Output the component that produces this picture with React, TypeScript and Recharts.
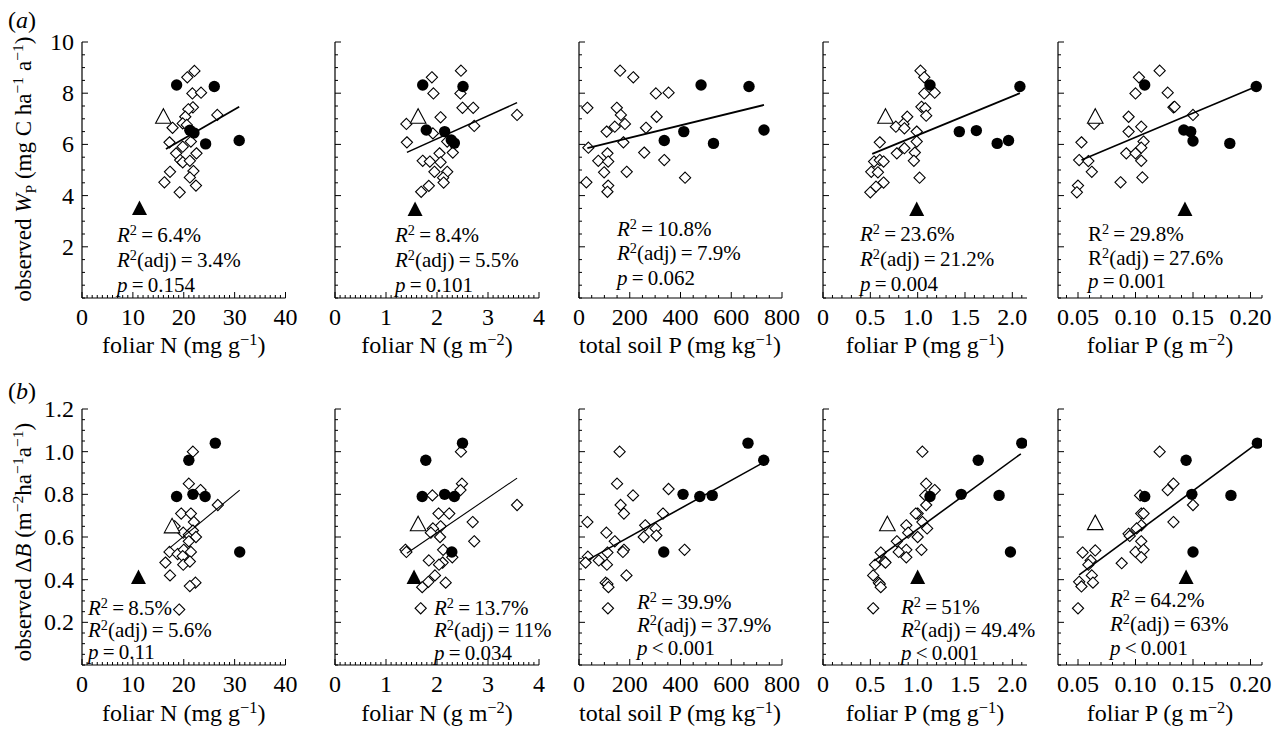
import React from "react";
import { ScatterChart, Scatter, XAxis, YAxis } from "recharts";

const SERIF = '"Liberation Serif", "Times New Roman", Times, serif';

type P = [number, number];

// ---- row (a): observed Wp ----
const wpNmDiamonds: P[] = [[22.1, 8.87], [20.7, 8.62], [21.7, 7.99], [23.4, 8.02], [21.8, 7.45], [20.9, 7.37], [26.6, 7.15], [20.3, 7.08], [19.8, 6.82], [17.8, 6.65], [20.6, 6.76], [17.2, 6.08], [21.4, 6.11], [19.8, 5.91], [18.5, 5.65], [22.5, 5.65], [19.3, 5.39], [19.8, 5.3], [21.2, 5.36], [17.3, 4.93], [21.9, 4.96], [21.2, 4.71], [16.2, 4.52], [22.4, 4.39], [19.2, 4.13]];
const wpNmCircles: P[] = [[18.6, 8.32], [26.0, 8.26], [21.2, 6.55], [22.0, 6.45], [24.3, 6.02], [30.9, 6.15]];
const wpNmTriOpen: P[] = [[16.0, 7.08]];
const wpNmTriFilled: P[] = [[11.3, 3.5]];
const wpNmFit: P[] = [[16.5, 5.82], [30.9, 7.47]];

const wpNaDiamonds: P[] = [[2.47, 8.88], [1.9, 8.62], [1.93, 7.99], [2.46, 7.99], [2.5, 7.43], [2.71, 7.43], [3.57, 7.15], [2.07, 7.06], [1.4, 6.8], [2.73, 6.72], [1.92, 6.43], [1.41, 6.08], [2.2, 6.11], [2.31, 5.68], [2.05, 5.65], [1.72, 5.36], [1.86, 5.33], [2.07, 5.3], [1.95, 4.93], [2.2, 4.93], [2.12, 4.7], [2.13, 4.51], [1.84, 4.38], [1.69, 4.15]];
const wpNaCircles: P[] = [[1.72, 8.32], [2.51, 8.26], [1.79, 6.56], [2.15, 6.5], [2.28, 6.17], [2.34, 6.05]];
const wpNaTriOpen: P[] = [[1.63, 7.08]];
const wpNaTriFilled: P[] = [[1.57, 3.46]];
const wpNaFit: P[] = [[1.41, 5.69], [3.57, 7.63]];

const wpSoilDiamonds: P[] = [[162, 8.88], [214, 8.62], [303, 7.99], [353, 8.02], [33, 7.43], [149, 7.43], [165, 7.15], [306, 7.08], [181, 6.8], [141, 6.69], [264, 6.65], [109, 6.5], [175, 6.08], [37, 5.87], [257, 5.68], [112, 5.65], [76, 5.36], [115, 5.33], [336, 5.39], [99, 4.91], [188, 4.93], [29, 4.52], [418, 4.7], [115, 4.39], [112, 4.15]];
const wpSoilCircles: P[] = [[481, 8.32], [670, 8.26], [336, 6.15], [413, 6.5], [530, 6.04], [729, 6.56]];
const wpSoilFit: P[] = [[33, 5.85], [729, 7.54]];

const wpPmDiamonds: P[] = [[1.03, 8.88], [1.07, 8.62], [1.07, 7.99], [1.18, 8.02], [1.04, 7.47], [1.08, 7.41], [1.09, 7.12], [0.89, 7.08], [0.85, 6.8], [0.77, 6.69], [0.86, 6.63], [0.99, 6.5], [0.6, 6.08], [0.99, 6.11], [0.86, 5.85], [0.78, 5.65], [0.97, 5.68], [0.54, 5.33], [0.6, 5.39], [0.64, 5.33], [0.96, 5.36], [0.51, 4.93], [0.58, 4.91], [1.02, 4.7], [0.64, 4.51], [0.56, 4.35], [0.5, 4.13]];
const wpPmCircles: P[] = [[1.13, 8.32], [2.08, 8.26], [1.44, 6.5], [1.62, 6.54], [1.84, 6.04], [1.96, 6.15]];
const wpPmTriOpen: P[] = [[0.66, 7.08]];
const wpPmTriFilled: P[] = [[0.99, 3.46]];
const wpPmFit: P[] = [[0.52, 5.63], [2.08, 8.0]];

const wpPaDiamonds: P[] = [[0.121, 8.88], [0.103, 8.62], [0.1, 7.99], [0.128, 8.02], [0.133, 7.45], [0.134, 7.47], [0.15, 7.15], [0.094, 7.08], [0.064, 6.8], [0.105, 6.69], [0.094, 6.5], [0.053, 6.08], [0.107, 6.11], [0.105, 5.87], [0.092, 5.65], [0.1, 5.65], [0.051, 5.39], [0.059, 5.35], [0.105, 5.36], [0.062, 4.93], [0.087, 4.52], [0.106, 4.71], [0.05, 4.39], [0.049, 4.13]];
const wpPaCircles: P[] = [[0.108, 8.32], [0.205, 8.26], [0.142, 6.56], [0.148, 6.5], [0.15, 6.13], [0.182, 6.04]];
const wpPaTriOpen: P[] = [[0.065, 7.08]];
const wpPaTriFilled: P[] = [[0.143, 3.46]];
const wpPaFit: P[] = [[0.053, 5.39], [0.205, 8.26]];

// ---- row (b): observed delta B ----
const dbNmDiamonds: P[] = [[21.8, 1.0], [21.0, 0.85], [23.3, 0.82], [26.7, 0.75], [19.5, 0.71], [21.4, 0.71], [18.2, 0.65], [22.0, 0.67], [19.9, 0.62], [21.0, 0.61], [21.8, 0.63], [22.4, 0.6], [21.0, 0.58], [17.2, 0.53], [18.8, 0.52], [20.0, 0.54], [21.4, 0.53], [19.8, 0.51], [16.4, 0.48], [19.9, 0.47], [21.2, 0.485], [17.3, 0.42], [22.3, 0.386], [21.2, 0.37], [19.1, 0.26]];
const dbNmCircles: P[] = [[26.2, 1.04], [21.0, 0.96], [18.6, 0.79], [21.8, 0.8], [24.2, 0.79], [31.0, 0.53]];
const dbNmTriOpen: P[] = [[17.7, 0.65]];
const dbNmTriFilled: P[] = [[11.1, 0.41]];
const dbNmFit: P[] = [[17.2, 0.548], [31.0, 0.82]];

const dbNaDiamonds: P[] = [[2.47, 1.0], [2.49, 0.85], [2.46, 0.82], [1.91, 0.795], [3.57, 0.75], [2.03, 0.71], [2.24, 0.71], [2.7, 0.67], [2.07, 0.65], [1.92, 0.64], [1.88, 0.62], [2.06, 0.6], [2.73, 0.58], [1.38, 0.54], [1.4, 0.53], [2.12, 0.54], [2.3, 0.505], [1.84, 0.49], [2.11, 0.48], [2.04, 0.47], [1.96, 0.42], [1.83, 0.39], [2.17, 0.386], [1.71, 0.365], [1.68, 0.266]];
const dbNaCircles: P[] = [[2.5, 1.04], [1.78, 0.96], [1.71, 0.79], [2.15, 0.8], [2.34, 0.79], [2.29, 0.53]];
const dbNaTriOpen: P[] = [[1.63, 0.66]];
const dbNaTriFilled: P[] = [[1.55, 0.41]];
const dbNaFit: P[] = [[1.41, 0.524], [3.57, 0.876]];

const dbSoilDiamonds: P[] = [[160, 1.0], [150, 0.85], [353, 0.825], [213, 0.795], [164, 0.75], [177, 0.71], [331, 0.71], [33, 0.67], [261, 0.655], [302, 0.64], [108, 0.62], [255, 0.6], [305, 0.607], [141, 0.58], [177, 0.54], [173, 0.53], [112, 0.527], [416, 0.54], [35, 0.508], [26, 0.48], [78, 0.49], [110, 0.47], [187, 0.42], [105, 0.386], [112, 0.38], [116, 0.365], [114, 0.266]];
const dbSoilCircles: P[] = [[666, 1.04], [728, 0.96], [410, 0.8], [476, 0.79], [525, 0.795], [334, 0.53]];
const dbSoilFit: P[] = [[35, 0.493], [728, 0.95]];

const dbPmDiamonds: P[] = [[1.05, 1.0], [1.09, 0.85], [1.18, 0.82], [1.08, 0.795], [1.09, 0.75], [1.0, 0.71], [0.98, 0.71], [1.05, 0.67], [0.88, 0.655], [1.1, 0.64], [0.9, 0.62], [1.0, 0.6], [0.78, 0.58], [0.61, 0.527], [0.88, 0.54], [0.8, 0.53], [1.04, 0.54], [0.88, 0.505], [0.65, 0.485], [0.55, 0.47], [0.66, 0.48], [0.53, 0.42], [0.59, 0.386], [0.6, 0.38], [0.61, 0.365], [0.53, 0.266]];
const dbPmCircles: P[] = [[2.1, 1.04], [1.64, 0.96], [1.13, 0.79], [1.46, 0.8], [1.86, 0.795], [1.98, 0.53]];
const dbPmTriOpen: P[] = [[0.68, 0.66]];
const dbPmTriFilled: P[] = [[1.0, 0.41]];
const dbPmFit: P[] = [[0.54, 0.488], [2.09, 0.99]];

const dbPaDiamonds: P[] = [[0.121, 1.0], [0.133, 0.85], [0.128, 0.82], [0.104, 0.795], [0.15, 0.75], [0.105, 0.71], [0.107, 0.71], [0.133, 0.67], [0.105, 0.655], [0.101, 0.64], [0.094, 0.615], [0.095, 0.605], [0.105, 0.58], [0.054, 0.527], [0.065, 0.537], [0.1, 0.53], [0.107, 0.54], [0.105, 0.505], [0.061, 0.49], [0.059, 0.47], [0.088, 0.477], [0.062, 0.42], [0.051, 0.39], [0.053, 0.368], [0.063, 0.386], [0.05, 0.266]];
const dbPaCircles: P[] = [[0.206, 1.04], [0.144, 0.96], [0.108, 0.79], [0.149, 0.8], [0.183, 0.795], [0.15, 0.53]];
const dbPaTriOpen: P[] = [[0.065, 0.665]];
const dbPaTriFilled: P[] = [[0.144, 0.41]];
const dbPaFit: P[] = [[0.051, 0.422], [0.206, 1.04]];

// ---- axes ----
const nmMajor = [0, 10, 20, 30, 40];
const naMajor = [0, 1, 2, 3, 4];
const soilMajor = [0, 200, 400, 600, 800];
const pmMajor = [0, 0.5, 1, 1.5, 2];
const paMajor = [0.05, 0.1, 0.15, 0.2];
const wpMajor = [2, 4, 6, 8, 10];
const dbMajor = [0.2, 0.4, 0.6, 0.8, 1.0, 1.2];

const steps = (a: number, b: number, s: number) => {
  const out: number[] = [];
  for (let i = 0; a + i * s <= b + 1e-9; i++) out.push(+(a + i * s).toFixed(4));
  return out;
};

const pts = (a: P[]) => a.map(([x, y]) => ({ x, y }));
const isMajor = (v: number, m: number[]) => m.some((k) => Math.abs(k - v) < 1e-6);

const PLOT_H = 256;
const ML = 45, MT = 12, MR = 32, MB = 40;
const TICK_FS = 24;

function Diamond(p: any) {
  const { cx, cy } = p;
  const r = 5.6;
  return <polygon points={`${cx},${cy - r} ${cx + r},${cy} ${cx},${cy + r} ${cx - r},${cy}`} fill="#fff" stroke="#000" strokeWidth={1.1} />;
}
function Dot(p: any) {
  return <circle cx={p.cx} cy={p.cy} r={5.7} fill="#000" />;
}
function TriOpen(p: any) {
  const { cx, cy } = p;
  return <polygon points={`${cx},${cy - 8} ${cx + 7.8},${cy + 6.5} ${cx - 7.8},${cy + 6.5}`} fill="#fff" stroke="#000" strokeWidth={1.1} />;
}
function TriFilled(p: any) {
  const { cx, cy } = p;
  return <polygon points={`${cx},${cy - 8} ${cx + 7.5},${cy + 6.5} ${cx - 7.5},${cy + 6.5}`} fill="#000" />;
}
const Empty = () => <g />;

function XTick({ x, y, payload, majors, fmt }: any) {
  const major = isMajor(payload.value, majors);
  return (
    <g>
      <line x1={x} x2={x} y1={y} y2={y - (major ? 6 : 3)} stroke="#000" strokeWidth={1} />
      {major && (
        <text x={x} y={y + 27} textAnchor="middle" fontFamily={SERIF} fontSize={TICK_FS} fill="#000">
          {fmt(payload.value)}
        </text>
      )}
    </g>
  );
}

function YTick({ x, y, payload, majors, fmt, show }: any) {
  const major = isMajor(payload.value, majors);
  return (
    <g>
      <line x1={x} x2={x + (major ? 6 : 3)} y1={y} y2={y} stroke="#000" strokeWidth={1} />
      {show && major && (
        <text x={x - 8} y={y + 8} textAnchor="end" fontFamily={SERIF} fontSize={TICK_FS} fill="#000">
          {fmt(payload.value)}
        </text>
      )}
    </g>
  );
}

function Panel(props: any) {
  const { left, top, w, xDomain, xTicks, xMajor, xFmt, yDomain, yTicks, yMajor, yFmt, showY, diamonds, circles, triOpen, triFilled, fit, lw } = props;
  return (
    <div style={{ position: "absolute", left: left - ML, top: top - MT }}>
      <ScatterChart width={w + ML + MR} height={PLOT_H + MT + MB} margin={{ top: MT, right: MR, bottom: 0, left: 0 }}>
        <XAxis type="number" dataKey="x" domain={xDomain} ticks={xTicks} interval={0} height={MB} allowDataOverflow
          tickSize={0} tickMargin={0} tickLine={false} axisLine={{ stroke: "#000", strokeWidth: 1.2 }}
          tick={(p: any) => <XTick {...p} majors={xMajor} fmt={xFmt} />} />
        <YAxis type="number" dataKey="y" domain={yDomain} ticks={yTicks} interval={0} width={ML} allowDataOverflow
          tickSize={0} tickMargin={0} tickLine={false} axisLine={{ stroke: "#000", strokeWidth: 1.2 }}
          tick={(p: any) => <YTick {...p} majors={yMajor} fmt={yFmt} show={showY} />} />
        <Scatter data={pts(diamonds)} shape={Diamond} isAnimationActive={false} />
        <Scatter data={pts(fit)} shape={Empty} line={{ stroke: "#000", strokeWidth: lw }} isAnimationActive={false} />
        <Scatter data={pts(circles)} shape={Dot} isAnimationActive={false} />
        {triOpen && <Scatter data={pts(triOpen)} shape={TriOpen} isAnimationActive={false} />}
        {triFilled && <Scatter data={pts(triFilled)} shape={TriFilled} isAnimationActive={false} />}
      </ScatterChart>
    </div>
  );
}

const sup: React.CSSProperties = { fontSize: "0.68em", verticalAlign: "0.5em", lineHeight: 0 };
const sub: React.CSSProperties = { fontSize: "0.68em", verticalAlign: "-0.3em", lineHeight: 0 };

function Stats({ left, top, gap, r2, adj, p, op = "=", italicR = true }: any) {
  const R = italicR ? <i>R</i> : <span>R</span>;
  return (
    <div style={{ position: "absolute", left, top: top - gap / 2, fontFamily: SERIF, fontSize: 21, lineHeight: `${gap}px`, whiteSpace: "nowrap", color: "#000" }}>
      <div>{R}<span style={sup}>2</span>{"\u2009=\u2009"}{r2}</div>
      <div>{R}<span style={sup}>2</span>(adj){"\u2009=\u2009"}{adj}</div>
      <div><i>p</i>{`\u2009${op}\u2009`}{p}</div>
    </div>
  );
}

function XTitle({ cx, cy, children }: any) {
  return (
    <div style={{ position: "absolute", left: cx - 150, top: cy - 15, width: 300, height: 30, lineHeight: "30px", textAlign: "center", fontFamily: SERIF, fontSize: 24, whiteSpace: "nowrap" }}>
      {children}
    </div>
  );
}

function YTitle({ cx, cy, children }: any) {
  return (
    <div style={{ position: "absolute", left: cx - 200, top: cy - 15, width: 400, height: 30, lineHeight: "30px", textAlign: "center", fontFamily: SERIF, fontSize: 23, whiteSpace: "nowrap", transform: "rotate(-90deg)" }}>
      {children}
    </div>
  );
}

const fmtInt = (v: number) => String(v);
const fmt1 = (v: number) => (v === 0 ? "0" : v.toFixed(1));
const fmt2 = (v: number) => v.toFixed(2);

const COLS = [
  { left: 82, w: 203.5, xDomain: [0, 40], xTicks: steps(0, 40, 1), xMajor: nmMajor, xFmt: fmtInt },
  { left: 335, w: 204, xDomain: [0, 4], xTicks: steps(0, 4, 0.1), xMajor: naMajor, xFmt: fmtInt },
  { left: 578.5, w: 203, xDomain: [0, 800], xTicks: steps(0, 800, 50), xMajor: soilMajor, xFmt: fmtInt },
  { left: 823, w: 204, xDomain: [0, 2.155], xTicks: steps(0, 2.1, 0.1), xMajor: pmMajor, xFmt: fmt1 },
  { left: 1058, w: 204, xDomain: [0.0326, 0.21], xTicks: steps(0.04, 0.21, 0.01), xMajor: paMajor, xFmt: fmt2 },
];

const ROW_A = { top: 42, yDomain: [0, 10], yTicks: steps(0, 10, 0.5), yMajor: wpMajor, yFmt: fmtInt };
const ROW_B = { top: 409, yDomain: [0, 1.2], yTicks: steps(0, 1.2, 0.05), yMajor: dbMajor, yFmt: fmt1 };

const rowAData = [
  { diamonds: wpNmDiamonds, circles: wpNmCircles, triOpen: wpNmTriOpen, triFilled: wpNmTriFilled, fit: wpNmFit, lw: 1.8 },
  { diamonds: wpNaDiamonds, circles: wpNaCircles, triOpen: wpNaTriOpen, triFilled: wpNaTriFilled, fit: wpNaFit, lw: 1.5 },
  { diamonds: wpSoilDiamonds, circles: wpSoilCircles, fit: wpSoilFit, lw: 1.8 },
  { diamonds: wpPmDiamonds, circles: wpPmCircles, triOpen: wpPmTriOpen, triFilled: wpPmTriFilled, fit: wpPmFit, lw: 1.8 },
  { diamonds: wpPaDiamonds, circles: wpPaCircles, triOpen: wpPaTriOpen, triFilled: wpPaTriFilled, fit: wpPaFit, lw: 1.6 },
];
const rowBData = [
  { diamonds: dbNmDiamonds, circles: dbNmCircles, triOpen: dbNmTriOpen, triFilled: dbNmTriFilled, fit: dbNmFit, lw: 1.1 },
  { diamonds: dbNaDiamonds, circles: dbNaCircles, triOpen: dbNaTriOpen, triFilled: dbNaTriFilled, fit: dbNaFit, lw: 1.1 },
  { diamonds: dbSoilDiamonds, circles: dbSoilCircles, fit: dbSoilFit, lw: 1.6 },
  { diamonds: dbPmDiamonds, circles: dbPmCircles, triOpen: dbPmTriOpen, triFilled: dbPmTriFilled, fit: dbPmFit, lw: 1.6 },
  { diamonds: dbPaDiamonds, circles: dbPaCircles, triOpen: dbPaTriOpen, triFilled: dbPaTriFilled, fit: dbPaFit, lw: 1.6 },
];

const xTitles = [
  <>foliar N (mg g<span style={sup}>−1</span>)</>,
  <>foliar N (g m<span style={sup}>−2</span>)</>,
  <>total soil P (mg kg<span style={sup}>−1</span>)</>,
  <>foliar P (mg g<span style={sup}>−1</span>)</>,
  <>foliar P (g m<span style={sup}>−2</span>)</>,
];

export default function App() {
  return (
    <div style={{ position: "absolute", left: 0, top: 0, width: 1279, height: 734, background: "#fff", fontFamily: SERIF, color: "#000" }}>
      {COLS.map((c, i) => (
        <Panel key={`a${i}`} {...c} {...ROW_A} {...rowAData[i]} showY={i === 0} />
      ))}
      {COLS.map((c, i) => (
        <Panel key={`b${i}`} {...c} {...ROW_B} {...rowBData[i]} showY={i === 0} />
      ))}

      {COLS.map((c, i) => (
        <XTitle key={`ta${i}`} cx={c.left + c.w / 2} cy={345}>{xTitles[i]}</XTitle>
      ))}
      {COLS.map((c, i) => (
        <XTitle key={`tb${i}`} cx={c.left + c.w / 2} cy={713}>{xTitles[i]}</XTitle>
      ))}

      <YTitle cx={24} cy={169}>
        observed <i>W</i><span style={sub}>P</span> (mg C ha<span style={sup}>−1</span> a<span style={sup}>−1</span>)
      </YTitle>
      <YTitle cx={24} cy={542}>
        observed Δ<i>B</i> (m<span style={sup}>−2</span>ha<span style={sup}>−1</span>a<span style={sup}>−1</span>)
      </YTitle>

      <div style={{ position: "absolute", left: 8, top: 6, fontSize: 24, lineHeight: "28px" }}>(<i>a</i>)</div>
      <div style={{ position: "absolute", left: 8, top: 377, fontSize: 24, lineHeight: "28px" }}>(<i>b</i>)</div>

      <Stats left={117} top={235} gap={25} r2="6.4%" adj="3.4%" p="0.154" />
      <Stats left={395} top={235} gap={25} r2="8.4%" adj="5.5%" p="0.101" />
      <Stats left={617} top={229} gap={24.5} r2="10.8%" adj="7.9%" p="0.062" />
      <Stats left={860} top={234} gap={25} r2="23.6%" adj="21.2%" p="0.004" />
      <Stats left={1088} top={235} gap={23.5} r2="29.8%" adj="27.6%" p="0.001" italicR={false} />

      <Stats left={88} top={608} gap={22} r2="8.5%" adj="5.6%" p="0.11" />
      <Stats left={434} top={608} gap={22.5} r2="13.7%" adj="11%" p="0.034" />
      <Stats left={637} top={602} gap={23} r2="39.9%" adj="37.9%" p="0.001" op="<" />
      <Stats left={901} top={607} gap={23} r2="51%" adj="49.4%" p="0.001" op="<" />
      <Stats left={1110} top={600} gap={24} r2="64.2%" adj="63%" p="0.001" op="<" />
    </div>
  );
}
